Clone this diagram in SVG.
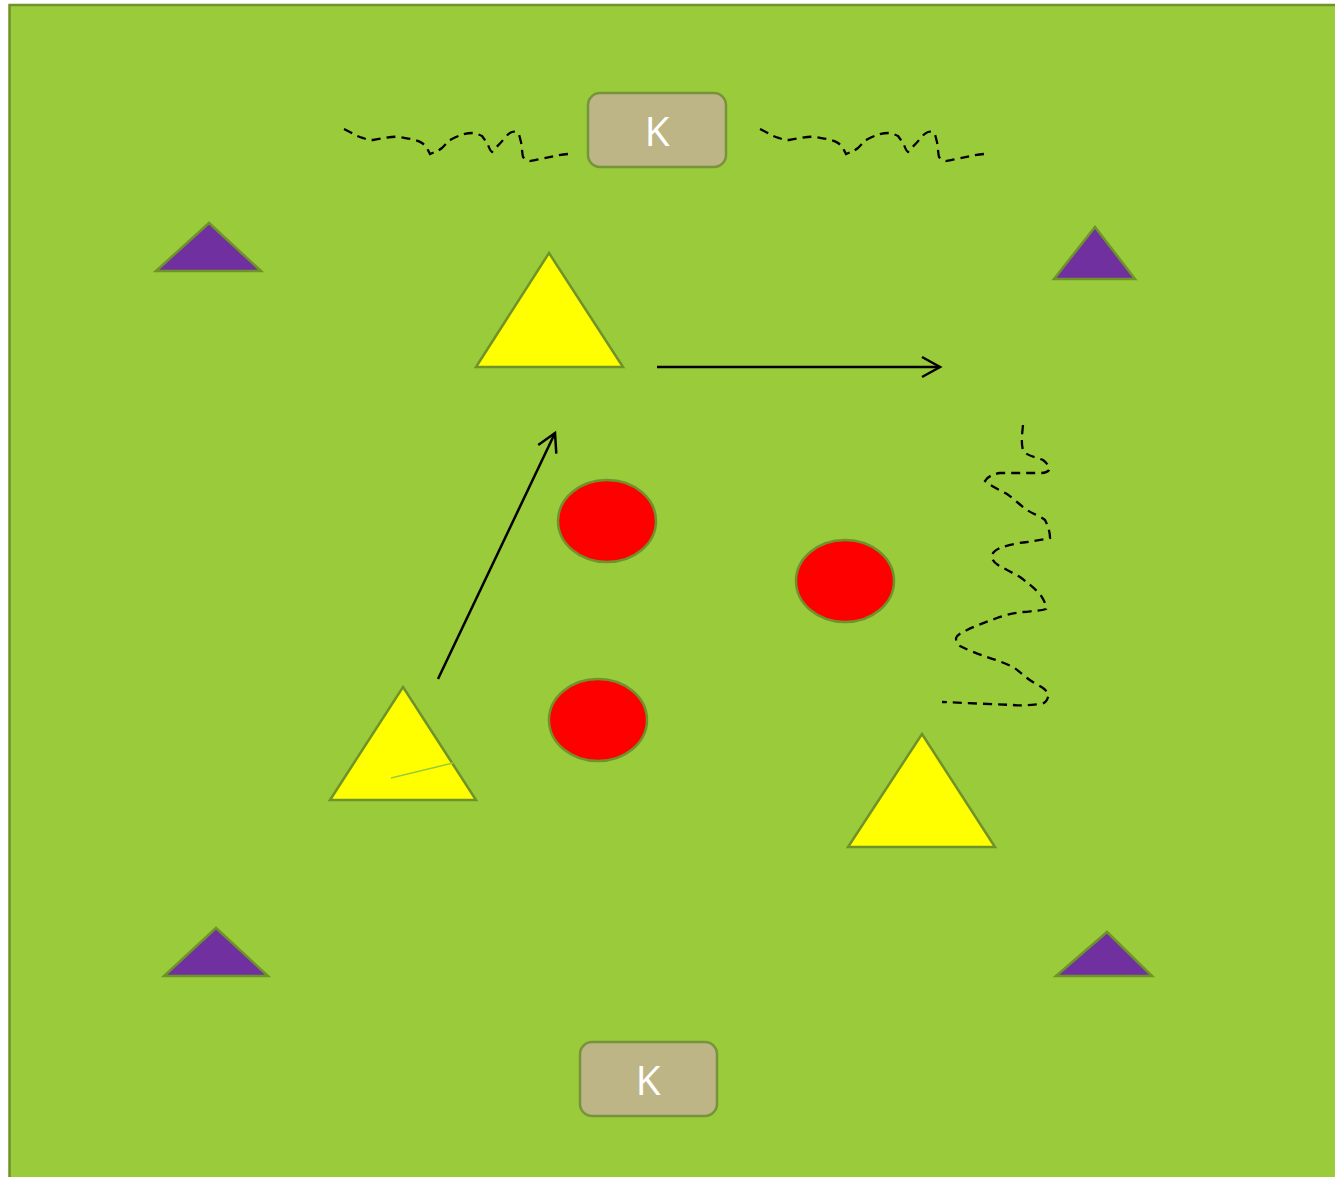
<svg xmlns="http://www.w3.org/2000/svg" width="1335" height="1177" viewBox="0 0 1335 1177">
<style>
.field{fill:#9acb3a;stroke:#6f922a;stroke-width:2.5}
.yel{fill:#ffff00;stroke:#6f922a;stroke-width:2.5;stroke-linejoin:miter}
.pur{fill:#7030a0;stroke:#6f922a;stroke-width:2.5}
.red{fill:#ff0000;stroke:#6f922a;stroke-width:2.5}
.kbox{fill:#bdb586;stroke:#77933c;stroke-width:2.5}
.ktxt{fill:#ffffff;font-family:"Open Sans","Noto Sans",sans-serif;font-size:41px;text-anchor:middle}
.arrow{fill:none;stroke:#000;stroke-width:2.5;marker-end:url(#open)}
.dash{fill:none;stroke:#000;stroke-width:2.3;stroke-dasharray:9 6}
</style>
<defs>
<marker id="open" viewBox="0 0 22 24" refX="19" refY="12" markerWidth="22" markerHeight="24" markerUnits="userSpaceOnUse" orient="auto">
<path d="M1,2 L19,12 L1,22" fill="none" stroke="#000" stroke-width="2.5"/>
</marker>
</defs>
<rect x="0" y="0" width="1335" height="1177" fill="#ffffff"/>
<rect class="field" x="9.5" y="5" width="1340" height="1190"/>
<g id="connectors">
<path class="arrow" d="M657,367 L940,367"/>
<path class="arrow" d="M438,679 L555,433"/>
<path id="squiggle-top-left" class="dash" d="M344,129 C352,133 358,137 363,138 C368,140 370,140 373,140 C385,138 392,136 400,137 C410,139 418,140 422,143 C426,146 427,148 430,154 C435,152 438,151 442,148 C446,144 448,141 452,139 C460,135 466,133 473,133 C478,134 480,135 482,136 C485,140 487,143 488,145 C490,150 491,152 492,152 C496,147 500,144 503,140 C506,136 509,133 512,132 C515,131 517,132 518,133 C520,136 520,139 521,142 C522,148 522,152 523,157 C525,159 527,160 530,161 C534,160 537,160 540,159 C550,157 558,155 568,154"/>
<path id="squiggle-top-right" class="dash" transform="translate(416,0)" d="M344,129 C352,133 358,137 363,138 C368,140 370,140 373,140 C385,138 392,136 400,137 C410,139 418,140 422,143 C426,146 427,148 430,154 C435,152 438,151 442,148 C446,144 448,141 452,139 C460,135 466,133 473,133 C478,134 480,135 482,136 C485,140 487,143 488,145 C490,150 491,152 492,152 C496,147 500,144 503,140 C506,136 509,133 512,132 C515,131 517,132 518,133 C520,136 520,139 521,142 C522,148 522,152 523,157 C525,159 527,160 530,161 C534,160 537,160 540,159 C550,157 558,155 568,154"/>
<path id="squiggle-right" class="dash" d="M1023,425 C1022,435 1021,443 1023,450 C1026,456 1036,457 1043,460 C1047,463 1050,467 1049,470 C1047,473 1045,473 1040,473 L1000,473 C993,474 987,477 985,481 C992,487 1000,490 1007,494 C1014,499 1020,505 1027,510 C1033,514 1040,516 1045,520 C1048,526 1050,532 1050,538 C1040,540 1034,541 1027,542 C1018,543 1008,545 1000,548 C994,551 991,554 992,558 C993,561 995,563 998,565 C1005,569 1013,573 1020,577 C1028,583 1034,588 1040,594 C1044,600 1046,604 1046,609 C1040,611 1032,611 1023,612 C1014,613 1005,615 997,618 C986,622 975,626 967,630 C961,633 957,635 956,638 C956,641 957,644 960,646 C968,650 978,654 987,657 C996,660 1005,663 1013,667 C1019,671 1022,674 1027,678 C1032,682 1038,685 1043,688 C1047,691 1049,694 1048,697 C1047,701 1046,703 1040,704 C1030,705 1020,706 1013,705 C990,704 965,703 942,702"/>
</g>
<g id="node-k-top">
<rect class="kbox" x="588" y="93" width="138" height="74" rx="12" ry="12"/>
<text class="ktxt" x="657" y="146">K</text>
</g>
<g id="node-k-bottom">
<rect class="kbox" x="580" y="1042" width="137" height="74" rx="12" ry="12"/>
<text class="ktxt" x="648" y="1095">K</text>
</g>
<g id="node-yellow-top">
<polygon class="yel" points="549,253 623,367 476,367"/>
</g>
<g id="node-yellow-left">
<polygon class="yel" points="403,687 476,800 330,800"/>
<line x1="391" y1="778" x2="453" y2="763" stroke="#9acb3a" stroke-width="1.5"/>
</g>
<g id="node-yellow-right">
<polygon class="yel" points="922,734 995,847 848,847"/>
</g>
<g id="node-purple-tl">
<polygon class="pur" points="209,223 261,271 156,271"/>
</g>
<g id="node-purple-tr">
<polygon class="pur" points="1095,227 1135,279 1054,279"/>
</g>
<g id="node-purple-bl">
<polygon class="pur" points="216,928 268,976 164,976"/>
</g>
<g id="node-purple-br">
<polygon class="pur" points="1107,932 1152,976 1056,976"/>
</g>
<g id="node-red-1">
<ellipse class="red" cx="607" cy="521" rx="49" ry="41"/>
</g>
<g id="node-red-2">
<ellipse class="red" cx="845" cy="581" rx="49" ry="41"/>
</g>
<g id="node-red-3">
<ellipse class="red" cx="598" cy="720" rx="49" ry="41"/>
</g>
</svg>
